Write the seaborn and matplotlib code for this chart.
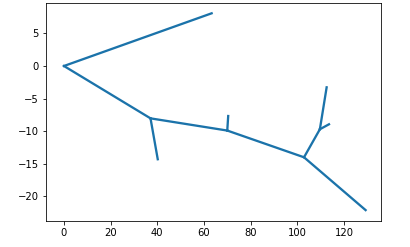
import matplotlib
matplotlib.use("Agg")
import matplotlib.pyplot as plt
import seaborn as sns
import pandas as pd

# Tree nodes (x, y) and edges (start node -> end node)
node_x = [0.0, 63.3, 37.1, 40.2, 70.0, 70.4, 102.9, 129.3, 109.7, 112.6, 113.6]
node_y = [0.0, 8.08, -8.03, -14.3, -9.9, -7.67, -14.0, -22.1, -9.7, -3.27, -8.94]
edge_start = [0, 0, 2, 2, 4, 4, 6, 6, 8, 8]
edge_end = [1, 2, 3, 4, 5, 6, 7, 8, 9, 10]

rows = []
for seg, (a, b) in enumerate(zip(edge_start, edge_end)):
    rows.append({"seg": seg, "order": 0, "x": node_x[a], "y": node_y[a]})
    rows.append({"seg": seg, "order": 1, "x": node_x[b], "y": node_y[b]})
df = pd.DataFrame(rows)

fig = plt.figure(figsize=(410 / 72, 247 / 72), dpi=72)
ax = fig.add_axes([46 / 410, 1 - 221 / 247, (381 - 46) / 410, (221 - 3) / 247])
sns.lineplot(data=df, x="x", y="y", units="seg", estimator=None, sort=False,
             color="#1b73aa", lw=2.3, ax=ax, legend=False)
ax.set_xlim(-7.7, 135.9)
ax.set_ylim(-23.77, 9.66)
ax.set_xticks([0, 20, 40, 60, 80, 100, 120])
ax.set_yticks([-20, -15, -10, -5, 0, 5])
ax.set_xlabel("")
ax.set_ylabel("")
ax.tick_params(labelsize=10)
fig.savefig("out.png", dpi=72)
